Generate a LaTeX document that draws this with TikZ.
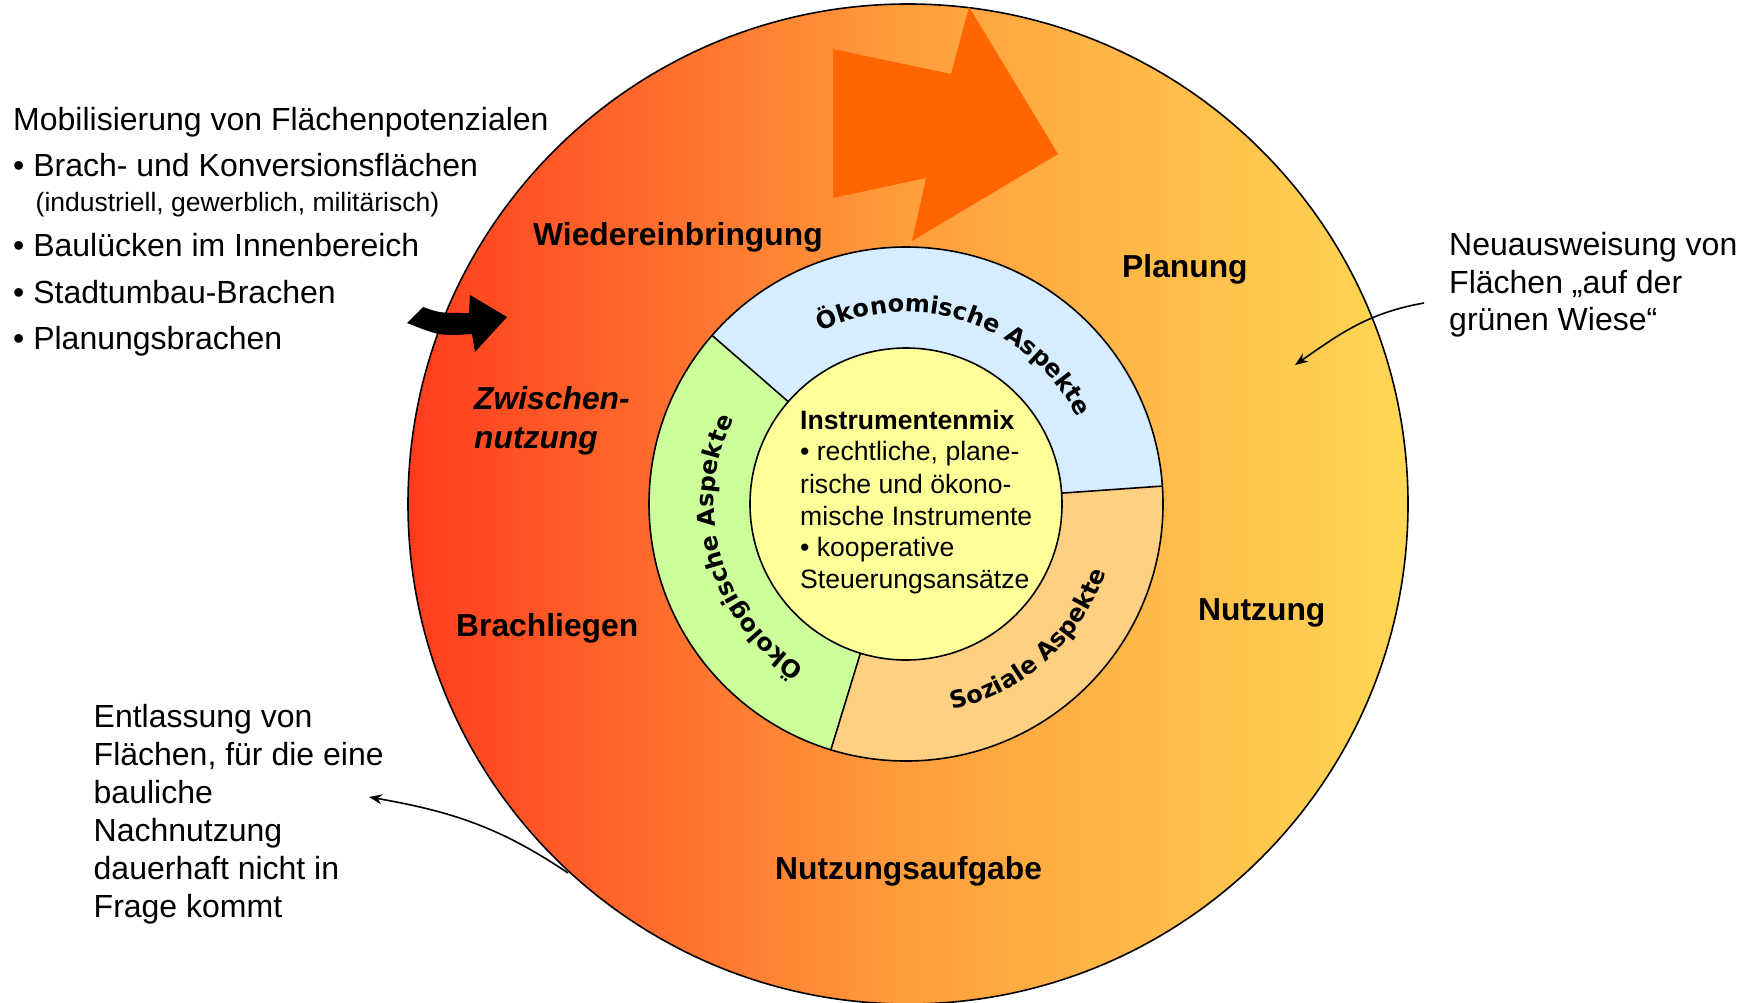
\documentclass[tikz,border=0pt]{standalone}
\usepackage{fontspec}
\setmainfont{Liberation Sans}
\newfontfamily\arcfamily{DejaVu Sans}
\usetikzlibrary{calc,decorations.text,arrows.meta}
\definecolor{ringred}{RGB}{255,60,30}
\definecolor{ringmid}{RGB}{255,158,60}
\definecolor{ringyel}{RGB}{255,215,85}
\definecolor{oekoblue}{RGB}{214,237,255}
\definecolor{oekogreen}{RGB}{204,255,153}
\definecolor{sozorange}{RGB}{255,208,130}
\definecolor{coreyellow}{RGB}{255,255,153}
\definecolor{bigarrow}{RGB}{255,102,0}
\newcommand{\fsz}[2]{\fontsize{#1}{#2}\selectfont}
\begin{document}
\begin{tikzpicture}[x=1pt,y=1pt,
  lbl/.style={anchor=base west, inner sep=0pt, font=\fsz{32}{38}},
  small/.style={anchor=base west, inner sep=0pt, font=\fsz{26.5}{30}},
  phase/.style={anchor=base west, inner sep=0pt, font=\fsz{31.8}{38}\bfseries},
  core/.style={anchor=base west, inner sep=0pt, font=\fsz{26.6}{32}},
  note/.style={line width=1.6pt, -{Stealth[length=13pt,width=10pt]}},
  outline/.style={line width=1.6pt, draw=black},
  arcfont/.style={decoration={text along path, text align=center,
     text={|\arcfamily\fsz{24}{24}\bfseries|#1}}, decorate}]
\useasboundingbox (0,0) rectangle (1747,-1002);
\coordinate (O) at (908,-504);
\coordinate (C) at (906,-504);
% outer cycle
\shade[left color=ringred, right color=ringyel, middle color=ringmid] (O) circle[radius=500pt];
\draw[outline] (O) circle[radius=500pt];
% big orange arrow
\fill[bigarrow] (833,-49) -- (951,-74) -- (969,-7) -- (1058,-154) -- (912,-241) -- (926,-178) -- (833,-198) -- cycle;
% black curved arrow
\fill[black] (423,-307) .. controls (440,-313) .. (469,-313) -- (470,-295) -- (507,-317) -- (475,-352) -- (472,-334) .. controls (440,-336) .. (407,-323) -- cycle;
% aspect ring
\fill[oekoblue] (C) -- ($(C)+(4:257)$) arc[start angle=4,end angle=139,radius=257pt] -- cycle;
\fill[oekogreen] (C) -- ($(C)+(139:257)$) arc[start angle=139,end angle=253,radius=257pt] -- cycle;
\fill[sozorange] (C) -- ($(C)+(253:257)$) arc[start angle=253,end angle=364,radius=257pt] -- cycle;
\draw[outline] ($(C)+(4:156)$) -- ($(C)+(4:257)$);
\draw[outline] ($(C)+(139:156)$) -- ($(C)+(139:257)$);
\draw[outline] ($(C)+(253:156)$) -- ($(C)+(253:257)$);
\draw[outline] (C) circle[radius=257pt];
\filldraw[fill=coreyellow, outline] (C) circle[radius=156pt];
% curved labels
\path[arcfont={Ökonomische Aspekte}] ($(C)+(139:192)$) arc[start angle=139,end angle=4,radius=192pt];
\path[arcfont={Ökologische Aspekte}] ($(C)+(253:192)$) arc[start angle=253,end angle=139,radius=192pt];
\path[arcfont={Soziale Aspekte}] ($(C)+(256:211)$) arc[start angle=256,end angle=368,radius=211pt];
% core text
\node[core, font=\fsz{26.6}{32}\bfseries] (ins) at (800,-429.4) {Instrumentenmix};
\node[core] (c1) at (800,-460.4) {• rechtliche, plane-};
\node[core] (c2) at (800,-493) {rische und ökono-};
\node[core] (c3) at (800,-525) {mische Instrumente};
\node[core] (c4) at (800,-556.8) {• kooperative};
\node[core] (c5) at (800,-588.8) {Steuerungsansätze};
% phase labels
\node[phase] (wied) at (533,-245) {Wiedereinbringung};
\node[phase] (plan) at (1122,-277.3) {Planung};
\node[phase, font=\fsz{31.8}{38}\bfseries\itshape] (zw1) at (474,-409.3) {Zwischen-};
\node[phase, font=\fsz{31.8}{38}\bfseries\itshape] (zw2) at (474,-448.3) {nutzung};
\node[phase] (brach) at (456,-636.7) {Brachliegen};
\node[phase] (nutz) at (1198,-620.7) {Nutzung};
\node[phase] (aufg) at (775,-879) {Nutzungsaufgabe};
% left list
\node[lbl] (mob) at (13,-130.7) {Mobilisierung von Flächenpotenzialen};
\node[lbl] (l1) at (13,-176.7) {• Brach- und Konversionsflächen};
\node[small] (l1b) at (35.5,-211.7) {(industriell, gewerblich, militärisch)};
\node[lbl] (l2) at (13,-256.7) {• Baulücken im Innenbereich};
\node[lbl] (l3) at (13,-303.3) {• Stadtumbau-Brachen};
\node[lbl] (l4) at (13,-349.3) {• Planungsbrachen};
% right note
\node[lbl] (neu1) at (1449,-255) {Neuausweisung von};
\node[lbl] (neu2) at (1449,-293.3) {Flächen „auf der};
\node[lbl] (neu3) at (1449,-330) {grünen Wiese“};
% lower-left note
\node[lbl] (ent1) at (93.5,-727.3) {Entlassung von};
\node[lbl] (ent2) at (93.5,-765) {Flächen, für die eine};
\node[lbl] (ent3) at (93.5,-803.3) {bauliche};
\node[lbl] (ent4) at (93.5,-841.7) {Nachnutzung};
\node[lbl] (ent5) at (93.5,-879.3) {dauerhaft nicht in};
\node[lbl] (ent6) at (93.5,-917.3) {Frage kommt};
% connectors
\coordinate (neuStart) at (1424,-303);
\coordinate (neuEnd) at (1295,-365);
\coordinate (entStart) at (568,-873);
\coordinate (entEnd) at (369,-797);
\draw[note] (neuStart) to[out=190, in=35] (neuEnd);
\draw[note] (entStart) to[out=146, in=-10] (entEnd);
\end{tikzpicture}
\end{document}
